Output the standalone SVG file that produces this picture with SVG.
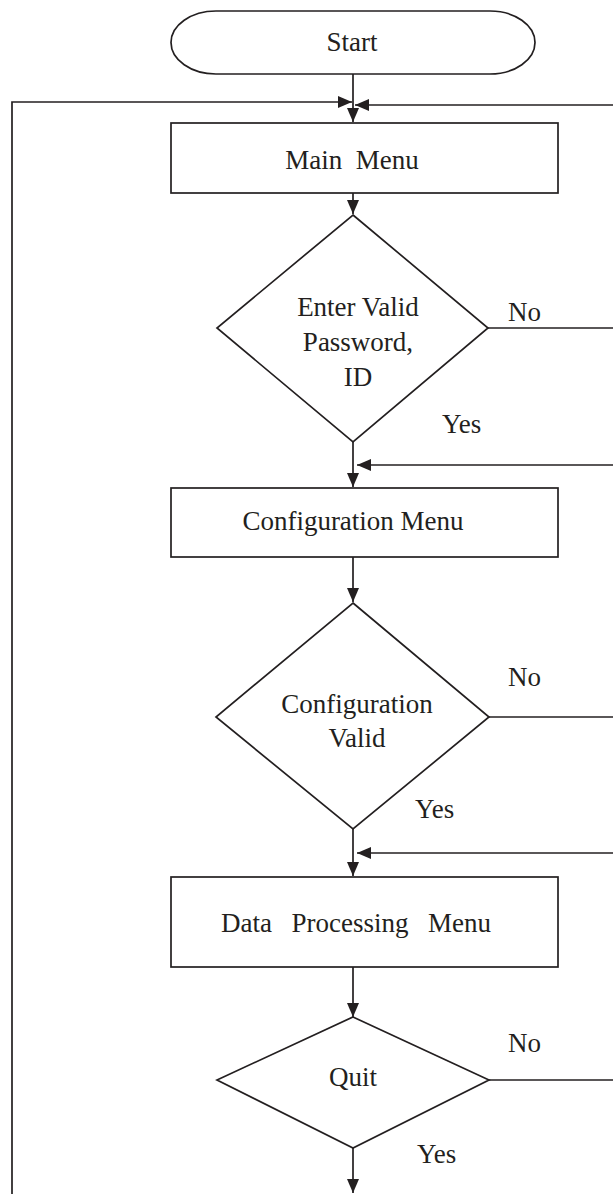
<svg xmlns="http://www.w3.org/2000/svg" width="613" height="1194" viewBox="0 0 613 1194">
<defs>
<style>
.s{fill:#fff;stroke:#231f20;stroke-width:1.7}
.c{fill:none;stroke:#231f20;stroke-width:1.7}
text{font-family:"Liberation Serif","Times New Roman",serif;font-size:27px;fill:#231f20}
.m{text-anchor:middle}
</style>
<marker id="ah" viewBox="0 0 14 12" refX="14" refY="6" markerWidth="14" markerHeight="12" orient="auto" markerUnits="userSpaceOnUse">
<path d="M0,0 L14,6 L0,12 z" fill="#231f20"/>
</marker>
</defs>
<rect width="613" height="1194" fill="#fff"/>
<g id="connectors">
<path class="c" d="M353,74 V122" marker-end="url(#ah)"/>
<path class="c" d="M12,1194 V102 H352" marker-end="url(#ah)"/>
<path class="c" d="M613,105 H355" marker-end="url(#ah)"/>
<path class="c" d="M353,193 V214" marker-end="url(#ah)"/>
<path class="c" d="M488,328 H613"/>
<path class="c" d="M353,442 V487" marker-end="url(#ah)"/>
<path class="c" d="M613,465 H357" marker-end="url(#ah)"/>
<path class="c" d="M353,557 V602" marker-end="url(#ah)"/>
<path class="c" d="M489,717 H613"/>
<path class="c" d="M353,829 V876" marker-end="url(#ah)"/>
<path class="c" d="M613,853 H357" marker-end="url(#ah)"/>
<path class="c" d="M353,967 V1017" marker-end="url(#ah)"/>
<path class="c" d="M489,1080 H613"/>
<path class="c" d="M353,1148 V1193" marker-end="url(#ah)"/>
</g>
<g id="start">
<rect class="s" x="171" y="11" width="364" height="63" rx="45" ry="31.5"/>
<text class="m" x="352" y="51">Start</text>
</g>
<g id="main-menu">
<rect class="s" x="171" y="123" width="387" height="70"/>
<text class="m" x="352" y="169" xml:space="preserve">Main  Menu</text>
</g>
<g id="check-password">
<polygon class="s" points="353,215 488,328 353,442 217,328"/>
<text class="m" x="358" y="316">Enter Valid</text>
<text class="m" x="358" y="351">Password,</text>
<text class="m" x="358" y="386">ID</text>
<text x="508" y="321">No</text>
<text x="442" y="433">Yes</text>
</g>
<g id="config-menu">
<rect class="s" x="171" y="488" width="387" height="69"/>
<text class="m" x="353" y="530">Configuration Menu</text>
</g>
<g id="config-valid">
<polygon class="s" points="353,603 489,717 353,829 216,717"/>
<text class="m" x="357" y="713">Configuration</text>
<text class="m" x="357" y="747">Valid</text>
<text x="508" y="686">No</text>
<text x="415" y="818">Yes</text>
</g>
<g id="data-menu">
<rect class="s" x="171" y="877" width="387" height="90"/>
<text class="m" x="356" y="932" xml:space="preserve" style="word-spacing:3px">Data  Processing  Menu</text>
</g>
<g id="quit">
<polygon class="s" points="353,1017 489,1080 353,1148 217,1080"/>
<text class="m" x="353" y="1086">Quit</text>
<text x="508" y="1052">No</text>
<text x="417" y="1163">Yes</text>
</g>
</svg>
